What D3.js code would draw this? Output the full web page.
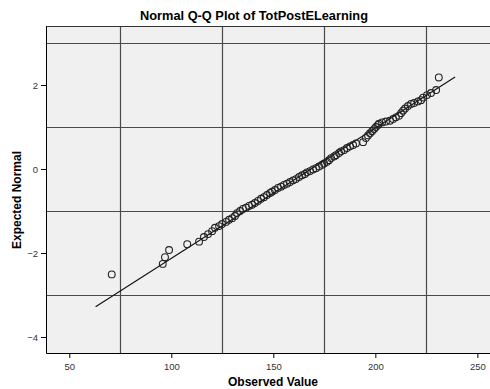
<!DOCTYPE html>
<html>
<head>
<meta charset="utf-8">
<script src="https://cdn.jsdelivr.net/npm/d3@7"></script>
<style>
  body { margin: 0; background: #fff; }
  text { font-family: "Liberation Sans", Arial, sans-serif; }
</style>
</head>
<body>
<div id="chart"></div>
<script>
var observed = [70.8, 95.8, 96.9, 98.9, 107.8, 113.6, 116.0, 118.0, 120.0, 121.4,
  123.4, 124.9, 126.8, 128.3, 129.8, 131.2, 132.2, 133.7, 135.1, 136.6,
  138.1, 139.6, 141.0, 142.5, 144.0, 145.4, 146.9, 148.4, 149.4, 150.8,
  152.3, 153.8, 155.2, 156.7, 158.2, 159.7, 161.1, 162.6, 164.1, 165.5,
  166.5, 168.0, 169.5, 170.9, 172.4, 173.9, 174.9, 176.3, 177.3, 178.3,
  179.8, 180.7, 182.2, 183.2, 184.7, 186.1, 187.6, 189.1, 190.5, 194.0,
  195.4, 196.4, 197.4, 198.4, 199.4, 200.3, 201.3, 201.8, 203.3, 205.2,
  207.2, 208.7, 210.1, 211.6, 212.6, 213.6, 214.6, 216.0, 217.5, 219.0,
  220.9, 222.4, 223.4, 225.3, 227.3, 229.8, 231.1];
var expected = [-2.51, -2.26, -2.10, -1.93, -1.79, -1.73, -1.62, -1.55, -1.48, -1.40,
  -1.36, -1.31, -1.26, -1.21, -1.17, -1.12, -1.05, -1.00, -0.95, -0.92,
  -0.88, -0.85, -0.81, -0.76, -0.71, -0.67, -0.62, -0.57, -0.54, -0.50,
  -0.45, -0.42, -0.38, -0.35, -0.31, -0.27, -0.24, -0.19, -0.15, -0.12,
  -0.08, -0.05, -0.01, 0.02, 0.06, 0.10, 0.13, 0.17, 0.21, 0.26,
  0.30, 0.33, 0.38, 0.42, 0.45, 0.50, 0.54, 0.57, 0.61, 0.64,
  0.74, 0.80, 0.85, 0.90, 0.95, 1.00, 1.05, 1.08, 1.11, 1.13,
  1.15, 1.19, 1.23, 1.27, 1.33, 1.39, 1.44, 1.50, 1.55, 1.57,
  1.61, 1.64, 1.70, 1.76, 1.81, 1.88, 2.18];

// reference line ends
var lineX = [62.9, 239.1];
var lineY = [-3.28, 2.19];

var xTicks = [50, 100, 150, 200, 250];
var yTicks = [-4, -2, 0, 2];
var xGrid = [75, 125, 175, 225];
var yGrid = [-3, -1, 1, 3];

var svgWidth = 490;
var svgHeight = 389;

var plot = { left: 46, top: 26, right: 490, bottom: 353 };

var svg = d3.select("#chart")
  .append("svg")
  .attr("width", svgWidth)
  .attr("height", svgHeight);

var x = d3.scaleLinear().domain([38.58, 256.2]).range([plot.left, plot.right]);
var y = d3.scaleLinear().domain([-4.381, 3.405]).range([plot.bottom, plot.top]);

// background
svg.append("rect")
  .attr("x", plot.left)
  .attr("y", plot.top)
  .attr("width", plot.right - plot.left)
  .attr("height", plot.bottom - plot.top)
  .attr("fill", "#f0f0f0");

// grid lines
svg.selectAll(".vgrid")
  .data(xGrid)
  .enter()
  .append("line")
  .attr("x1", d => Math.round(x(d)) + 0.5)
  .attr("x2", d => Math.round(x(d)) + 0.5)
  .attr("y1", plot.top)
  .attr("y2", plot.bottom)
  .attr("stroke", "#4a4a4a")
  .attr("stroke-width", 1.2);

svg.selectAll(".hgrid")
  .data(yGrid)
  .enter()
  .append("line")
  .attr("x1", plot.left)
  .attr("x2", plot.right)
  .attr("y1", d => Math.round(y(d)) + 0.5)
  .attr("y2", d => Math.round(y(d)) + 0.5)
  .attr("stroke", "#4a4a4a")
  .attr("stroke-width", 1.2);

// top border
svg.append("line")
  .attr("x1", plot.left).attr("x2", plot.right)
  .attr("y1", plot.top + 0.5).attr("y2", plot.top + 0.5)
  .attr("stroke", "#333");

// axes
var bottomAxis = d3.axisBottom(x).tickValues(xTicks).tickSize(5).tickSizeOuter(0);
var leftAxis = d3.axisLeft(y).tickValues(yTicks).tickSize(5).tickSizeOuter(0);

var xAxis = svg.append("g")
  .attr("transform", `translate(0, ${plot.bottom})`)
  .call(bottomAxis);
xAxis.select(".domain").attr("stroke", "#000");
xAxis.selectAll("text")
  .attr("font-size", 9.5)
  .attr("font-family", "Liberation Sans, Arial, sans-serif")
  .attr("fill", "#333")
  .attr("dy", "0.9em");

var yAxis = svg.append("g")
  .attr("transform", `translate(${plot.left}, 0)`)
  .call(leftAxis);
yAxis.select(".domain").attr("stroke", "#000");
yAxis.selectAll("text")
  .attr("font-size", 9.5)
  .attr("font-family", "Liberation Sans, Arial, sans-serif")
  .attr("fill", "#333")
  .attr("x", -8);

// reference line
svg.append("line")
  .attr("x1", x(lineX[0]))
  .attr("y1", y(lineY[0]))
  .attr("x2", x(lineX[1]))
  .attr("y2", y(lineY[1]))
  .attr("stroke", "#111")
  .attr("stroke-width", 1.1);

// points
svg.selectAll("circle")
  .data(observed)
  .enter()
  .append("circle")
  .attr("cx", (d, i) => x(d))
  .attr("cy", (d, i) => y(expected[i]))
  .attr("r", 3.4)
  .attr("fill", "none")
  .attr("stroke", "#222")
  .attr("stroke-width", 1.1);

// title and axis labels
svg.append("text")
  .attr("x", 254)
  .attr("y", 20)
  .attr("text-anchor", "middle")
  .attr("font-size", 12.8)
  .attr("font-weight", "bold")
  .text("Normal Q-Q Plot of TotPostELearning");

svg.append("text")
  .attr("x", 273)
  .attr("y", 386)
  .attr("text-anchor", "middle")
  .attr("font-size", 12)
  .attr("font-weight", "bold")
  .text("Observed Value");

svg.append("text")
  .attr("transform", "translate(21, 200) rotate(-90)")
  .attr("text-anchor", "middle")
  .attr("font-size", 12)
  .attr("font-weight", "bold")
  .text("Expected Normal");
</script>
</body>
</html>
